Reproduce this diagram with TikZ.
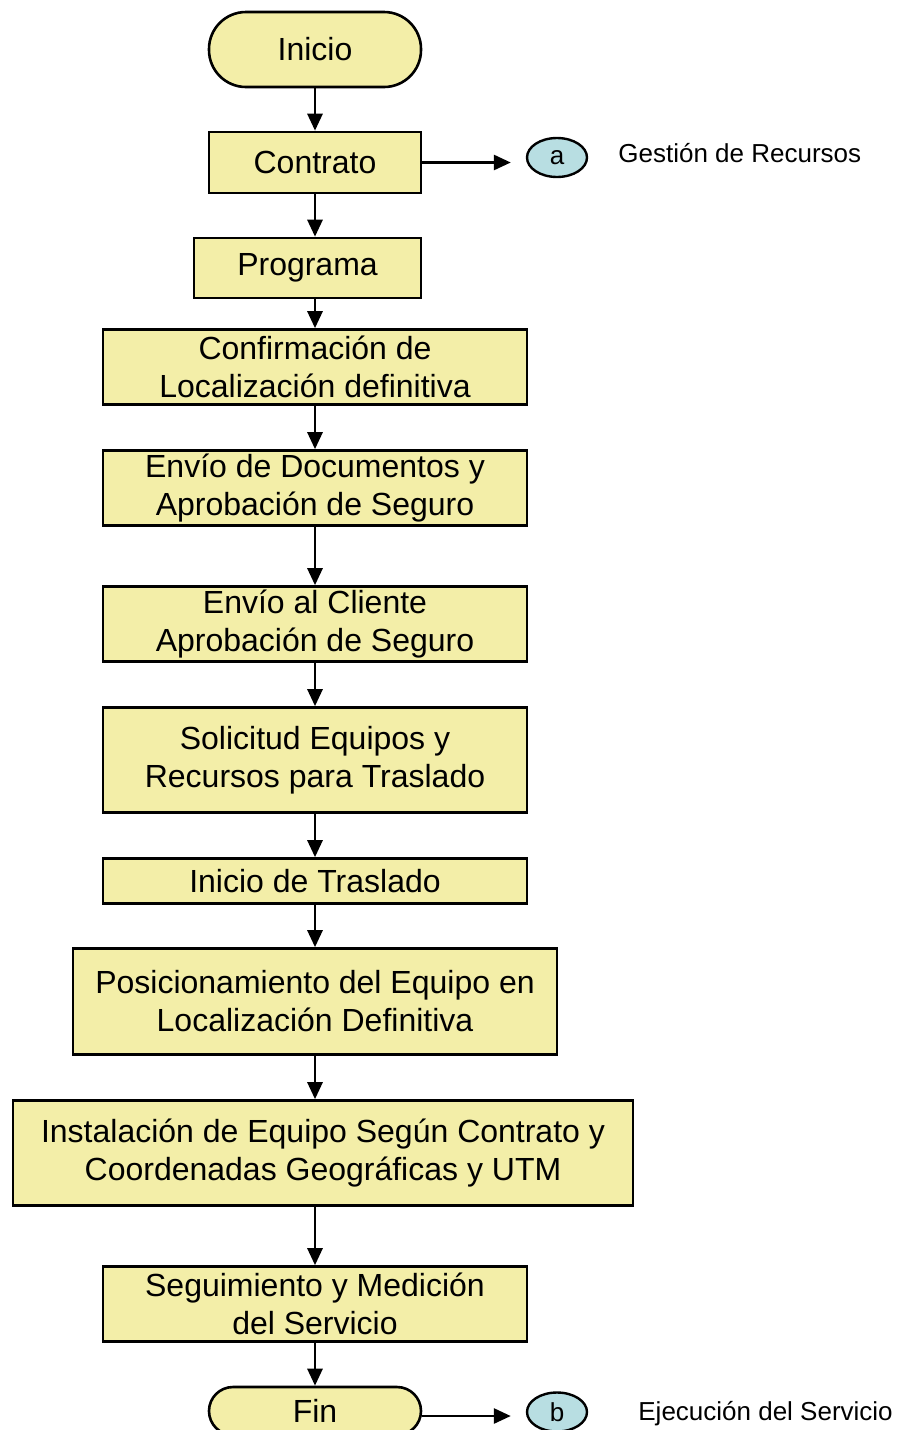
\documentclass[tikz,border=0pt]{standalone}
\usepackage{fontspec}
\setmainfont{Liberation Sans}
\usetikzlibrary{arrows.meta,shapes.geometric}
\definecolor{amarillo}{RGB}{243,238,168}
\definecolor{celeste}{RGB}{184,222,226}
\tikzset{
	paso/.style={draw,line width=1.3pt,fill=amarillo,align=center,inner sep=0pt,
		font=\fontsize{16}{19}\selectfont},
	terminal/.style={paso,rounded corners=#1},
	enlace/.style={draw,ellipse,line width=1.2pt,fill=celeste,inner sep=0pt,
		minimum width=30pt,minimum height=19.5pt,font=\fontsize{13}{15}\selectfont},
	nota/.style={anchor=west,inner sep=0pt,font=\fontsize{13}{15}\selectfont},
	flecha/.style={line width=1.4pt,-{Triangle[length=8.5pt,width=7.5pt]}}
}
\begin{document}
\begin{tikzpicture}[x=0.5pt,y=-0.5pt]
		\useasboundingbox (0,0) rectangle (905,1430);
		\node[terminal=18.5pt,minimum width=106pt,minimum height=37.5pt] (inicio) at (315,49.5) {Inicio};
		\node[paso,minimum width=106pt,minimum height=30.5pt] (contrato) at (315,162.5) {Contrato};
		\node[paso,minimum width=113.5pt,minimum height=30pt] (programa) at (307.5,268) {Programa};
		\node[paso,minimum width=212pt,minimum height=37.5pt] (confirma) at (315,367) {Confirmación de\\Localización definitiva};
		\node[paso,minimum width=212pt,minimum height=37.5pt] (envdoc) at (315,488) {Envío de Documentos y\\Aprobación de Seguro};
		\node[paso,minimum width=212pt,minimum height=37.5pt] (envcli) at (315,624) {Envío al Cliente\\Aprobación de Seguro};
		\node[paso,minimum width=212pt,minimum height=52.5pt] (solicitud) at (315,760) {Solicitud Equipos y\\Recursos para Traslado};
		\node[paso,minimum width=212pt,minimum height=22.5pt] (traslado) at (315,881) {Inicio de Traslado};
		\node[paso,minimum width=242pt,minimum height=53pt] (posicion) at (315,1001.5) {Posicionamiento del Equipo en\\Localización Definitiva};
		\node[paso,minimum width=310pt,minimum height=52.5pt] (instala) at (323,1153) {Instalación de Equipo Según Contrato y\\Coordenadas Geográficas y UTM};
		\node[paso,minimum width=212pt,minimum height=37.5pt] (seguim) at (315,1304) {Seguimiento y Medición\\del Servicio};
		\node[terminal=12pt,minimum width=106pt,minimum height=24pt] (fin) at (315,1411) {Fin};
		\node[enlace] (a) at (557,157.5) {a};
		\node[enlace] (b) at (557,1412) {b};
		\node[nota] (notaa) at (618,153) {Gestión de Recursos};
		\node[nota] (notab) at (638,1414) {Ejecución del Servicio};
		\draw[flecha] (inicio) -- (contrato);
		\draw[flecha] (contrato) -- (contrato.south |- programa.north);
		\draw[flecha] (confirma.north |- programa.south) -- (confirma);
		\draw[flecha] (confirma) -- (envdoc);
		\draw[flecha] (envdoc) -- (envcli);
		\draw[flecha] (envcli) -- (solicitud);
		\draw[flecha] (solicitud) -- (traslado);
		\draw[flecha] (traslado) -- (posicion);
		\draw[flecha] (posicion.south) -- (posicion.south |- instala.north);
		\draw[flecha] (posicion.south |- instala.south) -- (seguim.north);
		\draw[flecha] (seguim) -- (fin);
		\draw[flecha,shorten >=7.5pt] (contrato.east) -- (contrato.east -| a.west);
		\draw[flecha,shorten >=7.5pt] ([yshift=-2.5pt]fin.east) -- ([yshift=-2.5pt]fin.east -| b.west);
	\end{tikzpicture}
\end{document}
